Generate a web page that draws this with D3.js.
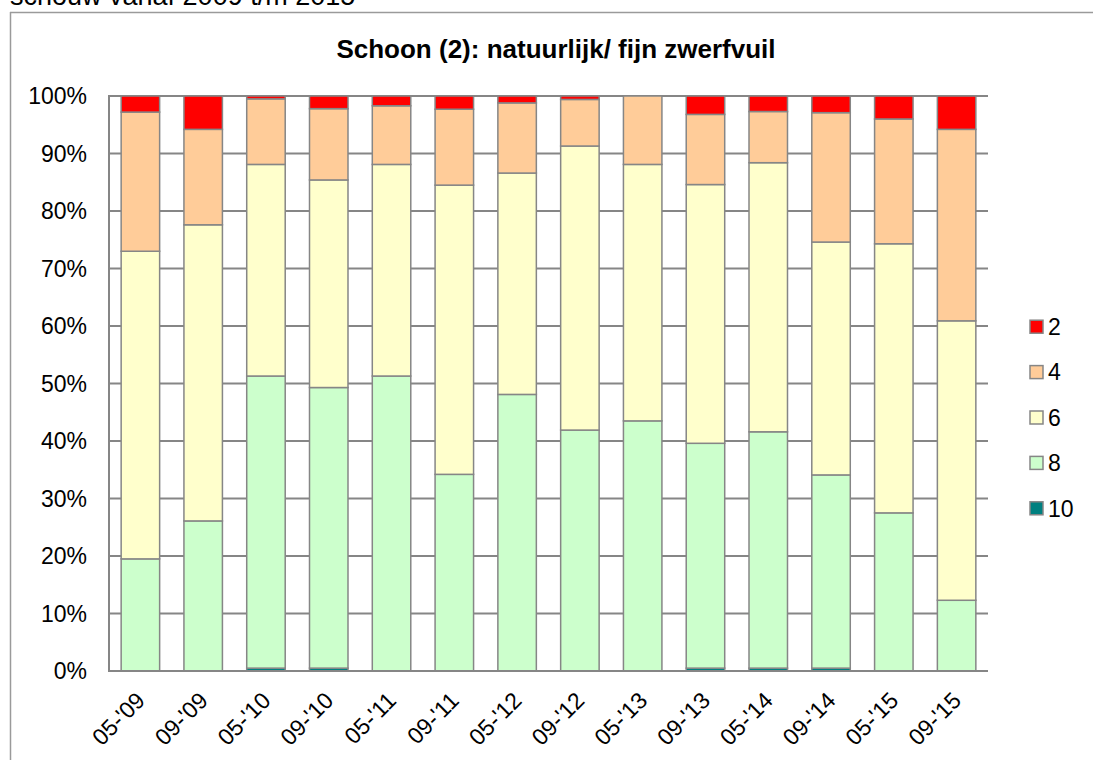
<!DOCTYPE html>
<html>
<head>
<meta charset="utf-8">
<script src="https://cdn.jsdelivr.net/npm/d3@7"></script>
<style>
  html, body { margin: 0; padding: 0; background: #fff; }
  svg { display: block; font-family: "Liberation Sans", Arial, sans-serif; }
</style>
</head>
<body>
<svg id="chart" width="1093" height="760"></svg>
<script>
const categories = ["05-'09","09-'09","05-'10","09-'10","05-'11","09-'11","05-'12","09-'12","05-'13","09-'13","05-'14","09-'14","05-'15","09-'15"];
const seriesNames = ["2","4","6","8","10"];
const seriesColors = ["#FF0000","#FFCC99","#FFFFCC","#CCFFCC","#008080"];
const v10 = [0, 0, 0.5, 0.5, 0, 0, 0, 0, 0, 0.5, 0.5, 0.5, 0, 0];
const v8  = [19.5, 26.1, 50.8, 48.8, 51.3, 34.2, 48.1, 41.9, 43.5, 39.1, 41.1, 33.6, 27.5, 12.3];
const v6  = [53.5, 51.5, 36.8, 36.1, 36.8, 50.3, 38.5, 49.4, 44.6, 45.0, 46.8, 40.5, 46.8, 48.6];
const v4  = [24.2, 16.6, 11.4, 12.4, 10.2, 13.2, 12.2, 8.1, 11.9, 12.2, 8.9, 22.5, 21.7, 33.3];
const v2  = [2.8, 5.8, 0.5, 2.2, 1.7, 2.3, 1.2, 0.6, 0.0, 3.2, 2.7, 2.9, 4.0, 5.8];
const yTicks = [0,10,20,30,40,50,60,70,80,90,100];
const title = "Schoon (2): natuurlijk/ fijn zwerfvuil";
const topText = "schouw vanaf 2009 t/m 2015";

const svg = d3.select("#chart");
const gray = "#868686";

// outer chart border (partially visible)
svg.append("line").attr("x1",10.5).attr("x2",10.5).attr("y1",12).attr("y2",760).attr("stroke","#9a9a9a").attr("stroke-width",1.5);
svg.append("line").attr("x1",10).attr("x2",1093).attr("y1",12.5).attr("y2",12.5).attr("stroke","#9a9a9a").attr("stroke-width",1.5);

svg.append("text").attr("x",10).attr("y",5).attr("font-size",27).attr("fill","#000").text(topText);

svg.append("text").attr("x",556).attr("y",58).attr("text-anchor","middle")
  .attr("font-size",26).attr("font-weight","bold").text(title);

const x = d3.scaleBand().domain(categories).range([109,988]).paddingInner(0.387).paddingOuter(0.1935);
const y = d3.scaleLinear().domain([0,100]).range([671,96]);

// gridlines
svg.append("g").selectAll("line").data(yTicks).join("line")
  .attr("x1",109).attr("x2",988)
  .attr("y1",d=>y(d)).attr("y2",d=>y(d))
  .attr("stroke",gray).attr("stroke-width",2);

// y labels
svg.append("g").selectAll("text").data(yTicks).join("text")
  .attr("x",87).attr("y",d=>y(d)).attr("dy","0.36em").attr("text-anchor","end")
  .attr("font-size",23).text(d=>d+"%");

// stacked data
const rows = categories.map((c,i)=>({cat:c,"10":v10[i],"8":v8[i],"6":v6[i],"4":v4[i],"2":v2[i]}));
const stackKeys = ["10","8","6","4","2"];
const stack = d3.stack().keys(stackKeys)(rows);
const colorOf = k => seriesColors[seriesNames.indexOf(k)];

svg.append("g").selectAll("g").data(stack).join("g")
  .attr("fill", s=>colorOf(s.key))
  .selectAll("rect").data(s=>s.filter(d=>d[1]-d[0]>0)).join("rect")
  .attr("x", d=>x(d.data.cat))
  .attr("width", x.bandwidth())
  .attr("y", d=>y(d[1]))
  .attr("height", d=>y(d[0])-y(d[1]))
  .attr("stroke", gray).attr("stroke-width",1.5);

// axis lines
svg.append("line").attr("x1",109).attr("x2",109).attr("y1",95).attr("y2",672).attr("stroke",gray).attr("stroke-width",2);
svg.append("line").attr("x1",108).attr("x2",988).attr("y1",671).attr("y2",671).attr("stroke",gray).attr("stroke-width",2);

// x labels
svg.append("g").selectAll("text").data(categories).join("text")
  .attr("text-anchor","end").attr("font-size",23)
  .attr("transform", d=>`translate(${x(d)+x.bandwidth()/2+6},${702}) rotate(-45)`)
  .text(d=>d);

// legend
const lg = svg.append("g");
seriesNames.forEach((n,i)=>{
  const cy = 326.7 + i*45.4;
  lg.append("rect").attr("x",1030).attr("y",cy-6.5).attr("width",13).attr("height",13)
    .attr("fill",seriesColors[i]).attr("stroke",gray).attr("stroke-width",1.5);
  lg.append("text").attr("x",1048).attr("y",cy).attr("dy","0.36em").attr("font-size",23).text(n);
});
</script>
</body>
</html>
